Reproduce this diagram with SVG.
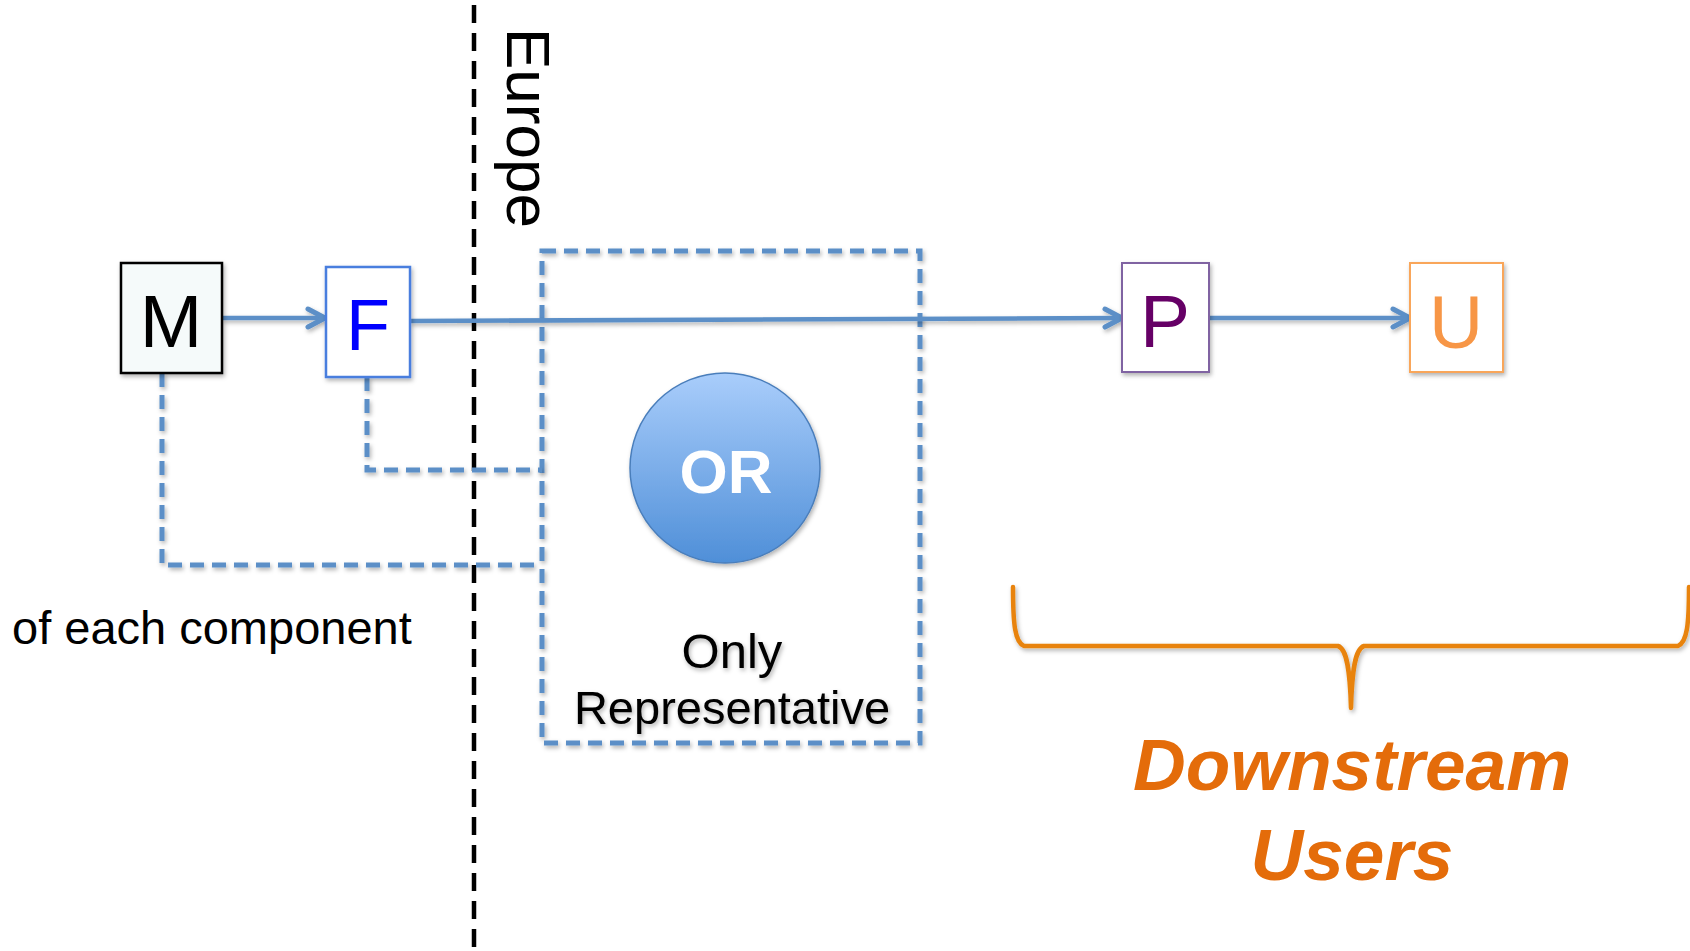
<svg xmlns="http://www.w3.org/2000/svg" width="1690" height="951" viewBox="0 0 1690 951">
<style>
.lbl{font-family:"Liberation Sans",Arial,sans-serif;text-anchor:middle}
.conn{fill:none;stroke:#5b8fc7;stroke-width:4.5}
.dash{fill:none;stroke:#5b8fc7;stroke-width:5;stroke-dasharray:14 8}
</style>
<defs>
<filter id="sh" filterUnits="userSpaceOnUse" x="0" y="0" width="1690" height="951">
<feDropShadow dx="1.5" dy="2.5" stdDeviation="2" flood-color="#000" flood-opacity="0.3"/>
</filter>
<linearGradient id="og" x1="0" y1="0" x2="0" y2="1">
<stop offset="0" stop-color="#a9cdfb"/>
<stop offset="1" stop-color="#4f8fd8"/>
</linearGradient>
<marker id="arr" viewBox="0 0 24 24" refX="21" refY="12" markerWidth="24" markerHeight="24" markerUnits="userSpaceOnUse" orient="auto">
<path d="M4,3 L21,12 L4,21" fill="none" stroke="#5b8fc7" stroke-width="5" stroke-linecap="round" stroke-linejoin="round"/>
</marker>
</defs>
<rect width="1690" height="951" fill="#fff"/>

<g id="europe">
<line x1="474" y1="5" x2="474" y2="951" stroke="#000" stroke-width="4.5" stroke-dasharray="18 10"/>
<text class="lbl" transform="translate(507,28) rotate(90)" style="text-anchor:start" font-size="62" fill="#000">Europe</text>
</g>

<g id="or-box">
<rect x="542" y="251" width="378" height="492" fill="#eef4f8" class="dash" filter="url(#sh)"/>
</g>

<g id="connectors">
<line x1="222" y1="318" x2="325" y2="318" class="conn" marker-end="url(#arr)" filter="url(#sh)"/>
<line x1="410" y1="321" x2="1122" y2="318" class="conn" marker-end="url(#arr)" filter="url(#sh)"/>
<line x1="1209" y1="318" x2="1410" y2="318" class="conn" marker-end="url(#arr)" filter="url(#sh)"/>
<polyline points="367,377 367,470 542,470" class="dash" filter="url(#sh)"/>
<polyline points="162,373 162,565 542,565" class="dash" filter="url(#sh)"/>
</g>

<g id="M">
<rect x="121" y="263" width="101" height="110" fill="#f5fafa" stroke="#000" stroke-width="2.5" filter="url(#sh)"/>
<text class="lbl" x="171" y="347" font-size="75" fill="#000">M</text>
</g>

<g id="F">
<rect x="326" y="267" width="84" height="110" fill="#fff" stroke="#4a7ede" stroke-width="2.5" filter="url(#sh)"/>
<text class="lbl" x="368" y="350" font-size="72" fill="#0000ff">F</text>
</g>

<g id="OR">
<circle cx="725" cy="468" r="95" fill="url(#og)" stroke="#4a7ebb" stroke-width="1.5" filter="url(#sh)"/>
<text class="lbl" x="726" y="493" font-size="62" font-weight="bold" fill="#fff">OR</text>
<text class="lbl" x="732" y="668" font-size="49" fill="#000" filter="url(#sh)">Only</text>
<text class="lbl" x="732" y="724" font-size="47" fill="#000" filter="url(#sh)">Representative</text>
</g>

<g id="P">
<rect x="1122" y="263" width="87" height="109" fill="#fff" stroke="#8064a2" stroke-width="2" filter="url(#sh)"/>
<text class="lbl" x="1165" y="347" font-size="75" fill="#660066">P</text>
</g>

<g id="U">
<rect x="1410" y="263" width="93" height="109" fill="#fff" stroke="#f9a65a" stroke-width="2" filter="url(#sh)"/>
<text class="lbl" x="1456" y="348" font-size="75" fill="#f79646">U</text>
</g>

<g id="component-label">
<text x="12" y="644" font-family="Liberation Sans, Arial, sans-serif" font-size="47" fill="#000">of each component</text>
</g>

<g id="downstream">
<path d="M1013,587 C1013,625 1015,642 1024,646 L1338,646 C1347,649 1350,670 1351,708 C1352,670 1355,649 1364,646 L1678,646 C1687,642 1689,625 1689,587" fill="none" stroke="#e8830c" stroke-width="4.5" stroke-linecap="round" stroke-linejoin="round" filter="url(#sh)"/>
<text class="lbl" x="1352" y="790" font-size="73" font-weight="bold" font-style="italic" fill="#e46c0a">Downstream</text>
<text class="lbl" x="1352" y="880" font-size="73" font-weight="bold" font-style="italic" fill="#e46c0a">Users</text>
</g>
</svg>
